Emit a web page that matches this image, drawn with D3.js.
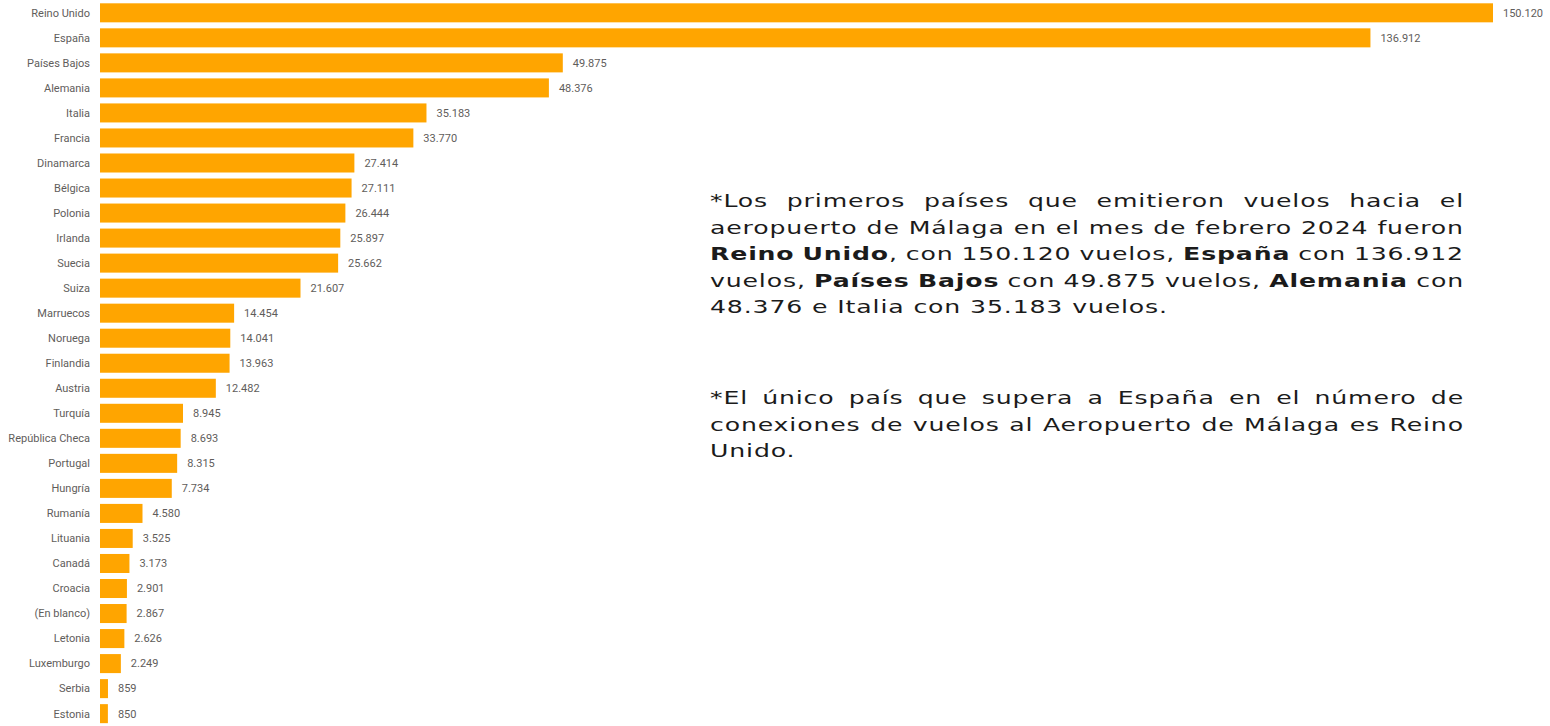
<!DOCTYPE html>
<html>
<head>
<meta charset="utf-8">
<script src="https://cdn.jsdelivr.net/npm/d3@7"></script>
<style>
  html, body { margin: 0; padding: 0; background: #fff; }
  svg { display: block; }
</style>
</head>
<body>
<div id="chart"></div>
<script>
  // data
  const countries = [
    'Reino Unido', 'España', 'Países Bajos', 'Alemania', 'Italia', 'Francia',
    'Dinamarca', 'Bélgica', 'Polonia', 'Irlanda', 'Suecia', 'Suiza',
    'Marruecos', 'Noruega', 'Finlandia', 'Austria', 'Turquía', 'República Checa',
    'Portugal', 'Hungría', 'Rumanía', 'Lituania', 'Canadá', 'Croacia',
    '(En blanco)', 'Letonia', 'Luxemburgo', 'Serbia', 'Estonia'
  ];
  const flights = [
    150120, 136912, 49875, 48376, 35183, 33770,
    27414, 27111, 26444, 25897, 25662, 21607,
    14454, 14041, 13963, 12482, 8945, 8693,
    8315, 7734, 4580, 3525, 3173, 2901,
    2867, 2626, 2249, 859, 850
  ];

  // note text, line breaks as in the picture (** marks bold)
  const note1 = [
    '*Los primeros países que emitieron vuelos hacia el',
    'aeropuerto de Málaga en el mes de febrero 2024 fueron',
    '**Reino Unido**, con 150.120 vuelos, **España** con 136.912',
    'vuelos, **Países Bajos** con 49.875 vuelos, **Alemania** con',
    '48.376 e Italia con 35.183 vuelos.'
  ];
  const note2 = [
    '*El único país que supera a España en el número de',
    'conexiones de vuelos al Aeropuerto de Málaga es Reino',
    'Unido.'
  ];

  const width = 1550;
  const height = 726;
  const barLeft = 100;
  const barRight = 1493;
  const barColor = '#FFA500';
  const labelGray = '#5f5d5b';

  const esLocale = d3.formatLocale({ decimal: ',', thousands: '.', grouping: [3], currency: ['', ' €'] });
  const fmt = esLocale.format(',d');

  const data = countries.map((c, i) => ({ country: c, value: flights[i] }));

  const svg = d3.select('#chart').append('svg')
    .attr('width', width)
    .attr('height', height);

  const x = d3.scaleLinear()
    .domain([0, d3.max(flights)])
    .range([barLeft, barRight]);

  const y = d3.scaleBand()
    .domain(countries)
    .range([0.3, 0.3 + 25.03 * countries.length])
    .paddingInner(0.24)
    .paddingOuter(0.12);

  const rows = svg.append('g')
    .selectAll('g')
      .data(data)
      .enter().append('g');

  rows.append('rect')
    .attr('x', x(0))
    .attr('y', d => y(d.country))
    .attr('width', d => x(d.value) - x(0))
    .attr('height', y.bandwidth())
    .style('fill', barColor);

  rows.append('text')
    .attr('x', barLeft - 10)
    .attr('y', d => y(d.country) + y.bandwidth() / 2)
    .attr('dy', '.35em')
    .attr('text-anchor', 'end')
    .style('font-family', 'Roboto, sans-serif')
    .style('font-size', '11px')
    .style('fill', labelGray)
    .text(d => d.country);

  rows.append('text')
    .attr('x', d => x(d.value) + 10)
    .attr('y', d => y(d.country) + y.bandwidth() / 2)
    .attr('dy', '.35em')
    .style('font-family', 'Roboto, sans-serif')
    .style('font-size', '11px')
    .style('fill', labelGray)
    .text(d => fmt(d.value));

  //
  // justified note text
  //

  const noteLeft = 710;
  const noteRight = 1464;
  const noteWidth = noteRight - noteLeft;
  const noteFont = '"DejaVu Sans", sans-serif';
  const noteSize = 18;
  const tracking = 0.6;
  const lineGap = 26.5;

  // split a line into words, each word a list of {text, bold} pieces
  function parseLine(line) {
    const words = [[]];
    line.split('**').forEach((seg, i) => {
      const bold = i % 2 === 1;
      seg.split(' ').forEach((part, j) => {
        if (j > 0) words.push([]);
        if (part.length) words[words.length - 1].push({ text: part, bold });
      });
    });
    return words.filter(w => w.length);
  }

  const noteG = svg.append('g')
    .style('font-family', noteFont)
    .style('font-size', `${noteSize}px`)
    .style('letter-spacing', `${tracking}px`)
    .style('fill', '#1b1b1b');

  function drawWord(parent, word, xPos, yPos, sx) {
    const t = parent.append('text')
      .attr('transform', `translate(${xPos},${yPos}) scale(${sx},1)`);
    word.forEach(p => {
      t.append('tspan')
        .style('font-weight', p.bold ? 'bold' : 'normal')
        .text(p.text);
    });
    return t;
  }

  // unscaled width of a word
  function wordWidth(word) {
    const t = drawWord(noteG, word, 0, -100, 1);
    const w = t.node().getBBox().width;
    t.remove();
    return w;
  }

  // stretch the glyphs so the unjustified reference line fills the column
  const spaceW = wordWidth([{ text: 'a a', bold: false }]) - wordWidth([{ text: 'aa', bold: false }]);
  const refWords = parseLine(note1[1]);
  const natural = d3.sum(refWords, wordWidth) + spaceW * (refWords.length - 1);
  const sx = noteWidth / natural;

  function drawParagraph(lines, firstBaseline) {
    lines.forEach((line, li) => {
      const words = parseLine(line);
      const widths = words.map(w => wordWidth(w) * sx);
      const isLast = li === lines.length - 1;
      const gap = isLast || words.length < 2
        ? spaceW * sx
        : (noteWidth - d3.sum(widths)) / (words.length - 1);
      let cx = noteLeft;
      words.forEach((w, wi) => {
        drawWord(noteG, w, cx, firstBaseline + li * lineGap, sx);
        cx += widths[wi] + gap;
      });
    });
  }

  drawParagraph(note1, 207);
  drawParagraph(note2, 404);
</script>
</body>
</html>
